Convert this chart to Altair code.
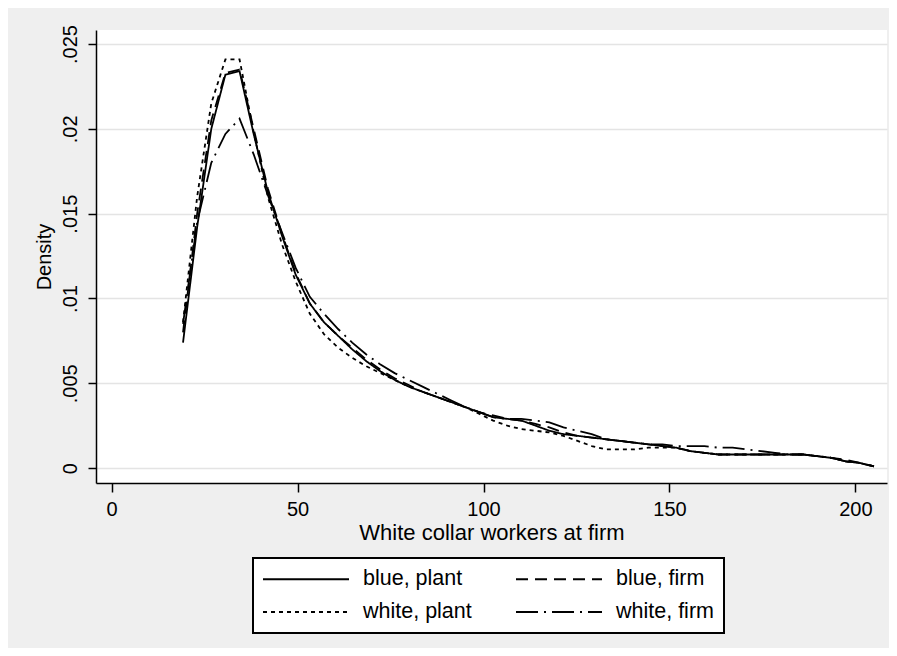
import altair as alt
import pandas as pd

FONT = "Liberation Sans"

x_vals = [19.2, 23.0, 26.8, 30.6, 34.4, 38.2, 42.0, 45.8, 49.5, 53.3,
          57.1, 60.9, 64.7, 68.5, 72.3, 76.1, 79.9, 83.6, 87.4, 91.2,
          95.0, 98.8, 102.6, 106.4, 110.2, 114.0, 117.7, 121.5, 125.3, 129.1,
          132.9, 136.7, 140.5, 144.3, 148.1, 151.9, 155.6, 159.4, 163.2, 167.0,
          170.8, 174.6, 178.4, 182.2, 186.0, 189.8, 193.6, 197.4, 201.2, 205.0]

blue_plant = [0.0074, 0.0142, 0.0200, 0.0232, 0.0234, 0.0197, 0.0163, 0.0137, 0.0114, 0.0097,
              0.0086, 0.0078, 0.0070, 0.0063, 0.0057, 0.0052, 0.0048, 0.0045, 0.0042, 0.0039,
              0.0036, 0.0033, 0.0030, 0.0029, 0.0028, 0.0025, 0.0022, 0.0020, 0.0019, 0.0018,
              0.0017, 0.0016, 0.0015, 0.0014, 0.0013, 0.0012, 0.0010, 0.0009, 0.0008, 0.0008,
              0.0008, 0.0008, 0.0008, 0.0008, 0.0008, 0.0007, 0.0006, 0.0004, 0.0003, 0.0001]

blue_firm = [0.0080, 0.0150, 0.0205, 0.0233, 0.0235, 0.0200, 0.0165, 0.0138, 0.0115, 0.0097,
             0.0086, 0.0078, 0.0071, 0.0064, 0.0058, 0.0053, 0.0049, 0.0045, 0.0042, 0.0039,
             0.0036, 0.0033, 0.0031, 0.0029, 0.0028, 0.0026, 0.0024, 0.0021, 0.0019, 0.0018,
             0.0017, 0.0016, 0.0015, 0.0014, 0.0013, 0.0012, 0.0010, 0.0009, 0.0008, 0.0008,
             0.0008, 0.0008, 0.0008, 0.0008, 0.0008, 0.0007, 0.0006, 0.0005, 0.0003, 0.0001]

white_plant = [0.0086, 0.0160, 0.0215, 0.0241, 0.0241, 0.0198, 0.0160, 0.0132, 0.0110, 0.0091,
               0.0079, 0.0071, 0.0065, 0.0060, 0.0056, 0.0052, 0.0048, 0.0045, 0.0042, 0.0039,
               0.0036, 0.0032, 0.0028, 0.0025, 0.0023, 0.0022, 0.0021, 0.0019, 0.0016, 0.0013,
               0.0011, 0.0011, 0.0011, 0.0012, 0.0012, 0.0012, 0.0010, 0.0009, 0.0008, 0.0008,
               0.0008, 0.0008, 0.0008, 0.0008, 0.0008, 0.0007, 0.0006, 0.0004, 0.0003, 0.0001]

white_firm = [0.0085, 0.0145, 0.0180, 0.0197, 0.0206, 0.0185, 0.0161, 0.0139, 0.0118, 0.0101,
              0.0091, 0.0082, 0.0074, 0.0067, 0.0061, 0.0056, 0.0052, 0.0048, 0.0044, 0.0040,
              0.0036, 0.0033, 0.0030, 0.0029, 0.0029, 0.0028, 0.0027, 0.0024, 0.0022, 0.0020,
              0.0017, 0.0016, 0.0015, 0.0014, 0.0014, 0.0013, 0.0013, 0.0013, 0.0012, 0.0012,
              0.0011, 0.0010, 0.0009, 0.0008, 0.0008, 0.0007, 0.0006, 0.0004, 0.0003, 0.0001]

series_names = ["blue, plant", "blue, firm", "white, plant", "white, firm"]
series_values = [blue_plant, blue_firm, white_plant, white_firm]
dash_styles = [[1, 0], [12, 7], [4, 4], [22, 6, 2, 6]]

x_ticks = [0, 50, 100, 150, 200]
y_ticks = [0, 0.005, 0.01, 0.015, 0.02, 0.025]

rows = []
for name, ys in zip(series_names, series_values):
    for xv, yv in zip(x_vals, ys):
        rows.append({"series": name, "x": xv, "density": yv})
df = pd.DataFrame(rows)

chart = alt.Chart(df).mark_line(strokeWidth=1.8, color="black").encode(
    x=alt.X("x:Q",
            scale=alt.Scale(domain=[-4.2, 208.5], nice=False, zero=False),
            axis=alt.Axis(values=x_ticks, title="White collar workers at firm", grid=False,
                          tickSize=9, labelPadding=7, titlePadding=3,
                          labelFontSize=20, titleFontSize=22)),
    y=alt.Y("density:Q",
            scale=alt.Scale(domain=[-0.00088, 0.02583], nice=False, zero=False),
            axis=alt.Axis(values=y_ticks, title="Density", grid=True,
                          labelAngle=270, labelAlign="center", labelBaseline="bottom",
                          labelExpr="datum.value == 0 ? '0' : substring(format(datum.value, '.3~f'), 1)",
                          tickSize=8, labelPadding=8, titlePadding=6,
                          labelFontSize=20, titleFontSize=20)),
    strokeDash=alt.StrokeDash("series:N",
                              scale=alt.Scale(domain=series_names, range=dash_styles),
                              legend=alt.Legend(title=None, orient="none", legendX=157, legendY=528,
                                                direction="horizontal",
                                                columns=2, symbolType="M-4.3,0H4.3", symbolSize=400,
                                                symbolStrokeWidth=1.8, symbolStrokeColor="black",
                                                symbolOffset=32, labelOffset=46,
                                                labelFontSize=21.5, labelFont=FONT, labelColor="black",
                                                labelLimit=300, columnPadding=40, rowPadding=11,
                                                padding=10, strokeColor="black", fillColor="white")),
    order=alt.Order("x:Q"),
).properties(
    width=791, height=453,
    autosize=alt.AutoSizeParams(type="none"),
    padding={"left": 88, "top": 22, "right": 2, "bottom": 165},
).configure(
    background="#efefef",
    font=FONT,
).configure_view(
    fill="white", stroke=None,
).configure_axis(
    domainColor="black", domainWidth=1.5, tickColor="black", tickWidth=1.5,
    gridColor="#e4e4e4", gridWidth=1.5,
    labelFont=FONT, labelColor="black", titleFont=FONT, titleColor="black",
    titleFontWeight="normal",
).configure_legend(
    strokeWidth=2,
)

chart.save("out.html", embed_options={"renderer": "svg", "actions": False})
